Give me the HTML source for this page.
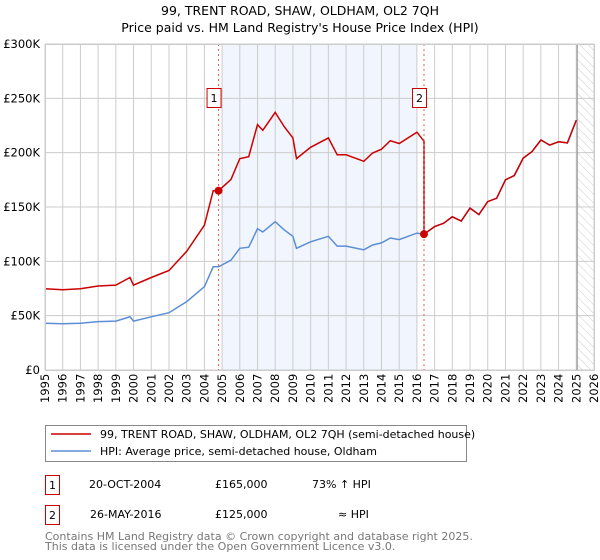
<!DOCTYPE html>
<html><head><meta charset="utf-8"><style>
body{margin:0;background:#fff;}
svg{display:block;font-family:"DejaVu Sans","Liberation Sans",sans-serif;}
</style></head><body>
<svg id="chart" width="600" height="560" viewBox="0 0 600 560" xmlns="http://www.w3.org/2000/svg">
<defs><pattern id="hatch" width="6" height="6" patternUnits="userSpaceOnUse" patternTransform="rotate(-45)"><line x1="0" y1="0" x2="0" y2="6" stroke="#ccc" stroke-width="1"/></pattern></defs>
<text x="300" y="15" text-anchor="middle" font-size="12.5">99, TRENT ROAD, SHAW, OLDHAM, OL2 7QH</text>
<text x="300" y="32" text-anchor="middle" font-size="12.5">Price paid vs. HM Land Registry's House Price Index (HPI)</text>
<g id="plot"></g>
<g>
<rect x="45.5" y="425.5" width="421" height="36" fill="#fff" stroke="#888"/>
<line x1="51" y1="434" x2="91" y2="434" stroke="#cc0000" stroke-width="1.5"/>
<text x="100" y="438" font-size="11">99, TRENT ROAD, SHAW, OLDHAM, OL2 7QH (semi-detached house)</text>
<line x1="51" y1="451" x2="91" y2="451" stroke="#5b8ed6" stroke-width="1.5"/>
<text x="100" y="455" font-size="11">HPI: Average price, semi-detached house, Oldham</text>
</g>
<g font-size="11">
<rect x="45.5" y="475.5" width="14" height="19" fill="#fff" stroke="#cc0000"/>
<text x="52.5" y="489" text-anchor="middle">1</text>
<text x="89" y="488">20-OCT-2004</text>
<text x="215" y="488">£165,000</text>
<text x="312" y="488">73% ↑ HPI</text>
<rect x="45.5" y="505.5" width="14" height="19" fill="#fff" stroke="#cc0000"/>
<text x="52.5" y="519" text-anchor="middle">2</text>
<text x="90" y="518">26-MAY-2016</text>
<text x="215" y="518">£125,000</text>
<text x="338" y="518">≈ HPI</text>
</g>
<text x="45" y="540" font-size="11" fill="#777">Contains HM Land Registry data © Crown copyright and database right 2025.</text>
<text x="45" y="550" font-size="11" fill="#777">This data is licensed under the Open Government Licence v3.0.</text>
</svg>
<script>
const hpiYears=[1995,1996,1997,1998,1999,1999.8,2000,2001,2002,2003,2004,2004.5,2004.8,2005.5,2006,2006.5,2007,2007.3,2008,2008.5,2009,2009.2,2010,2011,2011.5,2012,2013,2013.5,2014,2014.5,2015,2016,2016.4,2017,2017.5,2018,2018.5,2019,2019.5,2020,2020.5,2021,2021.5,2022,2022.5,2023,2023.5,2024,2024.5,2025];
const hpiValues=[43000,42500,43000,44500,45000,49000,45000,49000,52700,62900,76700,95000,95000,101000,112000,113000,130000,127000,136500,129000,123000,112000,118000,123000,114000,114000,110600,115000,117000,121500,120000,126000,125000,132000,135000,141000,137000,149000,143000,155000,158000,175000,179000,195000,201000,211700,207000,210000,209000,230000];
const saleYears=[2004.8,2016.4];
const salePrices=[165000,125000];
const saleLabels=["1","2"];
const yTicks=[0,50000,100000,150000,200000,250000,300000];
const yTickLabels=["£0","£50K","£100K","£150K","£200K","£250K","£300K"];
const xTicks=[1995,1996,1997,1998,1999,2000,2001,2002,2003,2004,2005,2006,2007,2008,2009,2010,2011,2012,2013,2014,2015,2016,2017,2018,2019,2020,2021,2022,2023,2024,2025,2026];

const X0=45,X1=594,Y0=370,Y1=44;
const xs=v=>X0+(v-1995)/(2026-1995)*(X1-X0);
const ys=v=>Y0-(v/300000)*(Y0-Y1);
const NS="http://www.w3.org/2000/svg";
const plot=document.getElementById('plot');
function mk(tag,attrs,parent){const e=document.createElementNS(NS,tag);for(const k in attrs)e.setAttribute(k,attrs[k]);(parent||plot).appendChild(e);return e;}
function hpiAt(t){for(let i=0;i<hpiYears.length-1;i++){if(t>=hpiYears[i]&&t<=hpiYears[i+1]){const f=(t-hpiYears[i])/(hpiYears[i+1]-hpiYears[i]);return hpiValues[i]+f*(hpiValues[i+1]-hpiValues[i]);}}return hpiValues[hpiValues.length-1];}

let r=mk('rect',{x:X0,y:Y1,width:X1-X0,height:Y0-Y1,fill:'#fff'});


r=mk('rect',{x:xs(2005),y:Y1,width:xs(2016)-xs(2005),height:Y0-Y1,fill:'#eef3fc',opacity:0.8});


r=mk('rect',{x:xs(2025.05),y:Y1,width:X1-xs(2025.05),height:Y0-Y1,fill:'url(#hatch)'});



xTicks.forEach(t=>{
  const l=mk('line',{x1:xs(t),x2:xs(t),y1:Y1,y2:Y0,stroke:'#ccc','stroke-width':1});
  
  
  const tx=mk('text',{x:0,y:0,transform:`translate(${xs(t)+4},${Y0+33}) rotate(-90)`,'font-size':11.5});
  tx.textContent=t;
  
  
});
yTicks.forEach((t,i)=>{
  const l=mk('line',{x1:X0,x2:X1,y1:ys(t),y2:ys(t),stroke:'#ccc','stroke-width':1});
  
  
  const tx=mk('text',{x:X0-5,y:ys(t)+4,'text-anchor':'end','font-size':11.5});
  tx.textContent=yTickLabels[i];
  
  
});
let vl=mk('line',{x1:xs(2025.05),x2:xs(2025.05),y1:Y1,y2:Y0,stroke:'#999','stroke-width':1.2});



// HPI line
let d=hpiYears.map((t,i)=>(i?'L':'M')+xs(t).toFixed(1)+','+ys(hpiValues[i]).toFixed(1)).join('');
let p=mk('path',{d:d,fill:'none',stroke:'#5b8ed6','stroke-width':1.5});



// Property line: indexed from sales
const r1=salePrices[0]/hpiAt(saleYears[0]);
const r2=salePrices[1]/hpiAt(saleYears[1]);
let pts=[];
hpiYears.forEach((t,i)=>{
  if(t<saleYears[1]) pts.push([t,hpiValues[i]*r1]);
});
pts.push([saleYears[1],hpiAt(saleYears[1])*r1*0.97]);
pts.push([saleYears[1],salePrices[1]]);
hpiYears.forEach((t,i)=>{ if(t>saleYears[1]) pts.push([t,hpiValues[i]*r2]); });
d=pts.map((q,i)=>(i?'L':'M')+xs(q[0]).toFixed(1)+','+ys(q[1]).toFixed(1)).join('');
p=mk('path',{d:d,fill:'none',stroke:'#cc0000','stroke-width':1.5});



saleYears.forEach((t,i)=>{
  const l=mk('line',{x1:xs(t),x2:xs(t),y1:Y1,y2:Y0,stroke:'#e06060','stroke-width':1,'stroke-dasharray':'2,3'});
  
  
  const c=mk('circle',{cx:xs(t),cy:ys(salePrices[i]),r:4,fill:'#cc0000'});
  
  
  const b=mk('rect',{x:xs(t)-11.5,y:88.5,width:14,height:19,fill:'#fff',stroke:'#cc0000'});
  
  
  const tx=mk('text',{x:xs(t)-4.5,y:102,'text-anchor':'middle','font-size':11});
  tx.textContent=saleLabels[i];
  
  
});
let fr=mk('rect',{x:X0+0.5,y:Y1+0.5,width:X1-X0,height:Y0-Y1,fill:'none',stroke:'#ccc'});


</script>
</body></html>
